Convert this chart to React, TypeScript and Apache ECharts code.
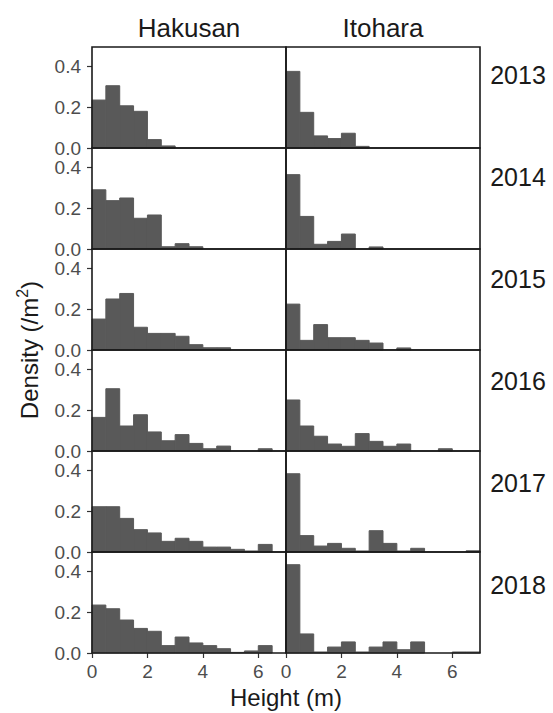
import { useEffect, useRef } from "react";
import * as echarts from "echarts";

const sites = ["Hakusan", "Itohara"];
const years = ["2013", "2014", "2015", "2016", "2017", "2018"];
const binStarts = [0, 0.5, 1, 1.5, 2, 2.5, 3, 3.5, 4, 4.5, 5, 5.5, 6, 6.5];
const binWidth = 0.5;
const xTicks = [0, 2, 4, 6];
const yTicks = [0, 0.2, 0.4];

const hakusan2013 = [0.234, 0.304, 0.206, 0.179, 0.041, 0.01, 0, 0, 0, 0, 0, 0, 0, 0];
const hakusan2014 = [0.289, 0.236, 0.249, 0.15, 0.166, 0.011, 0.026, 0.011, 0, 0, 0, 0, 0, 0];
const hakusan2015 = [0.151, 0.249, 0.276, 0.111, 0.081, 0.081, 0.067, 0.026, 0.011, 0.011, 0, 0, 0, 0];
const hakusan2016 = [0.164, 0.304, 0.122, 0.177, 0.093, 0.05, 0.08, 0.037, 0.011, 0.024, 0, 0, 0.011, 0];
const hakusan2017 = [0.221, 0.221, 0.164, 0.109, 0.093, 0.052, 0.067, 0.052, 0.024, 0.024, 0.013, 0.005, 0.037, 0];
const hakusan2018 = [0.234, 0.216, 0.161, 0.12, 0.106, 0.036, 0.078, 0.049, 0.036, 0.021, 0.003, 0.01, 0.036, 0];

const itohara2013 = [0.374, 0.174, 0.059, 0.046, 0.072, 0.008, 0, 0, 0, 0, 0, 0, 0, 0];
const itohara2014 = [0.363, 0.159, 0.023, 0.037, 0.073, 0, 0.01, 0, 0, 0, 0, 0, 0, 0];
const itohara2015 = [0.224, 0.047, 0.124, 0.06, 0.06, 0.047, 0.034, 0, 0.01, 0, 0, 0, 0, 0];
const itohara2016 = [0.249, 0.122, 0.072, 0.034, 0.023, 0.085, 0.047, 0.023, 0.034, 0, 0, 0.011, 0, 0];
const itohara2017 = [0.382, 0.08, 0.029, 0.042, 0.018, 0.005, 0.104, 0.042, 0.005, 0.018, 0, 0, 0, 0.006];
const itohara2018 = [0.431, 0.093, 0.005, 0.029, 0.054, 0.005, 0.029, 0.054, 0.016, 0.054, 0, 0, 0.005, 0.005];

const hakusan = [hakusan2013, hakusan2014, hakusan2015, hakusan2016, hakusan2017, hakusan2018];
const itohara = [itohara2013, itohara2014, itohara2015, itohara2016, itohara2017, itohara2018];
const siteData = [hakusan, itohara];

const FONT = "'Liberation Sans', Arial, Helvetica, sans-serif";
const BAR = "#595959";

export default function App() {
  const ref = useRef<HTMLDivElement>(null);

  useEffect(() => {
    const chart = echarts.init(ref.current!, null, { renderer: "svg" });
    const panelLeft = [92, 286];
    const panelW = 194;
    const top0 = 47;
    const panelH = 101;

    const grid: any[] = [];
    const xAxis: any[] = [];
    const yAxis: any[] = [];
    const series: any[] = [];
    const graphic: any[] = [];

    years.forEach((yr, r) => {
      sites.forEach((site, c) => {
        const idx = grid.length;
        const isBottom = r === years.length - 1;
        const isLeft = c === 0;
        grid.push({
          left: panelLeft[c],
          top: top0 + r * panelH,
          width: panelW,
          height: panelH,
          show: true,
          borderColor: "#1a1a1a",
          borderWidth: 1.6,
          backgroundColor: "transparent",
          z: 3,
        });
        xAxis.push({
          type: "value",
          gridIndex: idx,
          min: 0,
          max: 7,
          interval: 2,
          axisLine: { show: false },
          splitLine: { show: false },
          axisTick: {
            show: isBottom,
            customValues: xTicks,
            length: 5,
            lineStyle: { color: "#333333", width: 1.2 },
          },
          axisLabel: {
            show: isBottom,
            customValues: xTicks,
            fontSize: 19,
            color: "#4d4d4d",
            fontFamily: FONT,
            margin: 9,
          },
        });
        yAxis.push({
          type: "value",
          gridIndex: idx,
          min: 0,
          max: 0.493,
          interval: 0.2,
          axisLine: { show: false },
          splitLine: { show: false },
          axisTick: {
            show: isLeft,
            customValues: yTicks,
            length: 5,
            lineStyle: { color: "#333333", width: 1.2 },
          },
          axisLabel: {
            show: isLeft,
            customValues: yTicks,
            fontSize: 19,
            color: "#4d4d4d",
            fontFamily: FONT,
            margin: 11,
            formatter: (v: number) => v.toFixed(1),
          },
        });
        const vals = siteData[c][r];
        series.push({
          type: "custom",
          name: `${site} ${yr}`,
          xAxisIndex: idx,
          yAxisIndex: idx,
          encode: { x: [0, 1], y: 2 },
          data: binStarts.map((s, i) => [s, s + binWidth, vals[i]]),
          renderItem: (_p: any, api: any) => {
            const v = api.value(2);
            if (!v) return null;
            const a = api.coord([api.value(0), v]);
            const b = api.coord([api.value(1), 0]);
            return {
              type: "rect",
              shape: { x: a[0], y: a[1], width: b[0] - a[0], height: b[1] - a[1] },
              style: { fill: BAR, stroke: BAR, lineWidth: 1 },
            };
          },
        });
      });
      graphic.push({
        type: "text",
        x: 518,
        y: 75 + r * 102,
        style: {
          text: yr,
          fontSize: 25,
          fontFamily: FONT,
          fill: "#1a1a1a",
          align: "center",
          verticalAlign: "middle",
        },
      });
    });

    sites.forEach((site, c) => {
      graphic.push({
        type: "text",
        x: panelLeft[c] + panelW / 2,
        y: 28,
        style: {
          text: site,
          fontSize: 26,
          fontFamily: FONT,
          fill: "#1a1a1a",
          align: "center",
          verticalAlign: "middle",
        },
      });
    });

    graphic.push({
      type: "text",
      x: 286,
      y: 697,
      style: {
        text: "Height (m)",
        fontSize: 24,
        fontFamily: FONT,
        fill: "#1a1a1a",
        align: "center",
        verticalAlign: "middle",
      },
    });

    graphic.push({
      type: "text",
      x: 29,
      y: 350,
      rotation: Math.PI / 2,
      style: {
        text: "{a|Density (/m}{s|2}{a|)}",
        rich: {
          a: { fontSize: 24, fontFamily: FONT, fill: "#1a1a1a", lineHeight: 30 },
          s: { fontSize: 16, fontFamily: FONT, fill: "#1a1a1a", verticalAlign: "top", lineHeight: 30 },
        },
        align: "center",
        verticalAlign: "middle",
      },
    });

    chart.setOption({
      animation: false,
      backgroundColor: "#ffffff",
      grid,
      xAxis,
      yAxis,
      series,
      graphic,
    });

    return () => chart.dispose();
  }, []);

  return (
    <div
      ref={ref}
      style={{ position: "absolute", left: 0, top: 0, width: 553, height: 713 }}
    />
  );
}
